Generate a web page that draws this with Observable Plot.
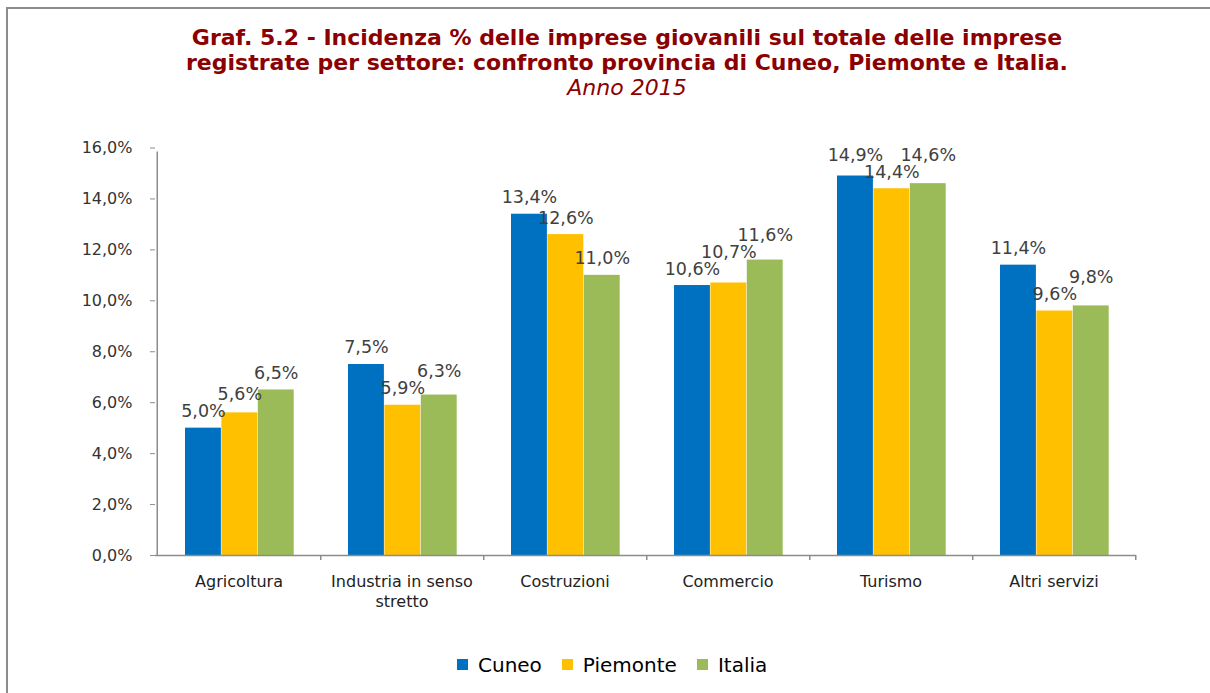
<!DOCTYPE html>
<html><head><meta charset="utf-8">
<script src="https://cdn.jsdelivr.net/npm/d3@7"></script>
<script src="https://cdn.jsdelivr.net/npm/@observablehq/plot@0.6"></script>
<style>
body{margin:0;background:#fff;width:1210px;height:693px;overflow:hidden;position:relative;font-family:"DejaVu Sans",sans-serif}
#frame{position:absolute;left:6px;top:7px;width:1300px;height:800px;border-left:2px solid #8c8c8c;border-top:2px solid #8c8c8c;box-sizing:border-box}
.t{position:absolute;left:0;width:1254px;text-align:center;color:#8B0000;white-space:nowrap;line-height:1;font-family:"DejaVu Sans",sans-serif}
#t1,#t2{font-weight:bold;font-size:22px}
#t1{top:27px}
#t2{top:52px}
#t3{top:77px;font-style:italic;font-size:22px}
#chart{position:absolute;left:0;top:0}
#legend{position:absolute;left:457px;top:648px}
</style>
</head><body>
<div id="frame"></div>
<div id="chart"></div>
<div class="t" id="t1">Graf. 5.2 - Incidenza % delle imprese giovanili sul totale delle imprese</div>
<div class="t" id="t2">registrate per settore: confronto provincia di Cuneo, Piemonte e Italia.</div>
<div class="t" id="t3">Anno 2015</div>
<div id="legend"></div>
<script>
// ---- data ----
const categories = ["Agricoltura", "Industria in senso stretto", "Costruzioni", "Commercio", "Turismo", "Altri servizi"];
const categoryTickLabels = ["Agricoltura", "Industria in senso\nstretto", "Costruzioni", "Commercio", "Turismo", "Altri servizi"];
const seriesNames = ["Cuneo", "Piemonte", "Italia"];
const cuneo = [5.0, 7.5, 13.4, 10.6, 14.9, 11.4];
const piemonte = [5.6, 5.9, 12.6, 10.7, 14.4, 9.6];
const italia = [6.5, 6.3, 11.0, 11.6, 14.6, 9.8];
const yTicks = [0, 2, 4, 6, 8, 10, 12, 14, 16];
const colors = ["#0070C0", "#FFC000", "#9BBB59"];

// ---- layout ----
const W = 1210, H = 620, mL = 155, mR = 74, mT = 147.5, mB = 65;
const bw = (W - mL - mR) / categories.length;
const groupLeft = 28, barW = 36.4;
const labelSize = 17.5, labelGap = 11, lineH = 17;
const fmt = v => v.toFixed(1).replace(".", ",") + "%";
const axisColor = "#8c8c8c";
const yPix = d3.scaleLinear().domain([0, 16]).range([H - mB, mT]);

// text width measurement (for collision avoidance of value labels)
const ctx = document.createElement("canvas").getContext("2d");
ctx.font = `${labelSize}px "DejaVu Sans"`;

const seriesValues = [cuneo, piemonte, italia];
const barMarks = [], labelMarks = [];
const labelInfo = categories.map(() => []);
seriesValues.forEach((vals, i) => {
  const data = categories.map((c, j) => ({cat: c, value: vals[j]}));
  const il = groupLeft + i * barW, ir = bw - il - barW;
  barMarks.push(Plot.barY(data, {x: "cat", y: "value", fill: colors[i], insetLeft: il, insetRight: ir}));
  data.forEach((d, j) => {
    const cx = il + barW / 2 - bw / 2;
    const base = yPix(d.value) - labelGap;
    labelInfo[j].push({d, cx, base, natural: base, w: ctx.measureText(fmt(d.value)).width});
  });
});
// simple collision avoidance: raise the higher label of an overlapping adjacent pair
labelInfo.forEach(group => {
  for (let iter = 0; iter < 10; iter++) {
    let changed = false;
    for (let k = 0; k < group.length - 1; k++) {
      const a = group[k], b = group[k + 1];
      const hOverlap = Math.abs(a.cx - b.cx) < (a.w + b.w) / 2 - 1;
      if (hOverlap && Math.abs(a.base - b.base) < lineH - 0.01) {
        const up = a.natural < b.natural ? a : b, other = up === a ? b : a;
        up.base = other.base - lineH;
        changed = true;
      }
    }
    if (!changed) break;
  }
  group.forEach(l => {
    labelMarks.push(Plot.text([l.d], {x: "cat", y: "value", text: d => fmt(d.value),
      dx: l.cx, dy: l.base - yPix(l.d.value), lineAnchor: "bottom", fontSize: labelSize, fill: "#404040"}));
  });
});

const chart = Plot.plot({
  width: W, height: H, marginLeft: mL, marginRight: mR, marginTop: mT, marginBottom: mB,
  style: {fontFamily: "DejaVu Sans", fontSize: "15px", color: "#333", background: "transparent"},
  x: {type: "band", domain: categories, padding: 0, axis: null},
  y: {domain: [0, 16], axis: null},
  marks: [
    ...barMarks,
    Plot.ruleY([0], {stroke: axisColor, strokeWidth: 1.5}),
    Plot.ruleX([categories[0]], {y1: 0, y2: 16, dx: -bw / 2, stroke: axisColor, strokeWidth: 1.5, insetBottom: -4}),
    Plot.ruleX(categories, {y1: 0, y2: 0, dx: bw / 2, stroke: axisColor, strokeWidth: 1.5, insetBottom: -5}),
    Plot.axisY({ticks: yTicks, tickFormat: fmt, tickSize: 5, tickPadding: 18, fontSize: 16, stroke: axisColor, fill: "#333", label: null}),
    Plot.axisX({tickSize: 0, tickPadding: 17, fontSize: 16, lineHeight: 1.25, fill: "#222", label: null,
      tickFormat: d => categoryTickLabels[categories.indexOf(d)]}),
    ...labelMarks
  ]
});
document.getElementById("chart").append(chart);

const legend = Plot.legend({
  color: {type: "ordinal", domain: seriesNames, range: colors},
  legend: "swatches", swatchSize: 11, marginLeft: 0,
  style: {fontSize: "20px", fontFamily: "DejaVu Sans", color: "#000"}
});
document.getElementById("legend").append(legend);
</script>
</body></html>
